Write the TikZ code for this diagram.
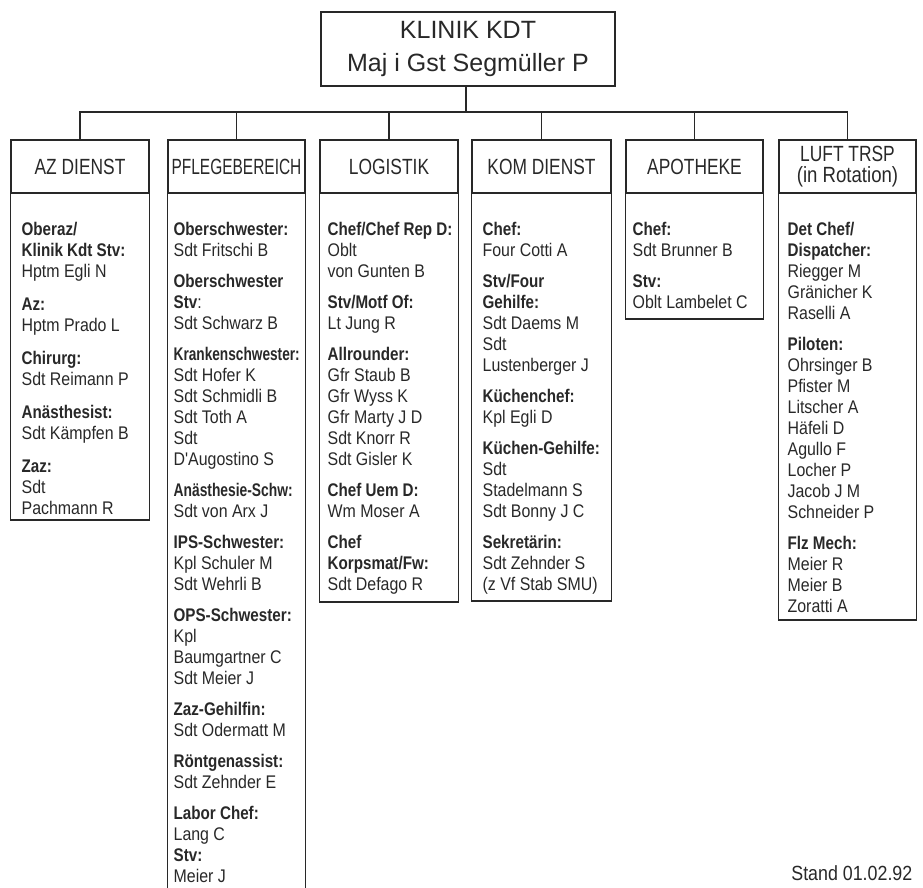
\documentclass[tikz,border=0pt]{standalone}
\usepackage{fontspec}
\setmainfont{Liberation Sans}[Ligatures=TeXOff, FakeStretch=0.87, BoldFeatures={FakeStretch=0.83}]
\newfontfamily\topfont{Liberation Sans}
\newfontfamily\hdfont{Liberation Sans}[FakeStretch=0.79]
\definecolor{ink}{RGB}{40,40,40}
\begin{document}
\begin{tikzpicture}[x=1pt,y=-1pt, line width=1.3pt, color=ink,
  topbox/.style={draw, inner sep=0pt, minimum width=294pt, minimum height=74pt, align=center, font=\topfont\fontsize{25}{33}\selectfont},
  hdbox/.style={draw, inner sep=0pt, minimum height=53pt, align=center, font=\hdfont\fontsize{22}{21}\selectfont},
  body/.style={anchor=north west, inner sep=0pt, align=left, font=\fontsize{18.3}{21}\selectfont},
  stamp/.style={anchor=base east, inner sep=0pt, font=\fontsize{20.5}{24}\selectfont}]
\useasboundingbox (0,0) rectangle (923,888);

% top
\node[topbox] (kdt) at (468,49) {KLINIK KDT\\Maj i Gst Segmüller P};

% headers
\node[hdbox, minimum width=138pt] (az) at (80,166.5) {AZ DIENST};
\node[hdbox, minimum width=137pt] (pf) at (236.5,166.5) {\scalebox{0.89}[1]{PFLEGEBEREICH}};
\node[hdbox, minimum width=138pt] (lg) at (389,166.5) {LOGISTIK};
\node[hdbox, minimum width=139pt] (km) at (541.5,166.5) {KOM DIENST};
\node[hdbox, minimum width=137pt] (ap) at (694.5,166.5) {APOTHEKE};
\node[hdbox, minimum width=137pt] (lt) at (847.5,166.5) {LUFT TRSP\\\scalebox{1.07}[1]{(in Rotation)}};

% connectors
\coordinate (bus) at (466,112);
\draw (kdt.south -| bus) -- (bus);
\draw (az.north) |- (bus) -| (lt.north);
\foreach \n in {pf,lg,km,ap} \draw (\n.north) -- (\n.north |- bus);

% body frames
\draw (az.south west) -- (az.south west |- 0,520) -| (az.south east);
\draw (pf.south west) -- (pf.south west |- 0,888);
\draw (pf.south east) -- (pf.south east |- 0,888);
\draw (lg.south west) -- (lg.south west |- 0,602) -| (lg.south east);
\draw (km.south west) -- (km.south west |- 0,601) -| (km.south east);
\draw (ap.south west) -- (ap.south west |- 0,319) -| (ap.south east);
\draw (lt.south west) -- (lt.south west |- 0,620) -| (lt.south east);

% bodies
\node[body] (azb) at (21,221) {\rule{0pt}{14pt}\textbf{Oberaz/}\\
\textbf{Klinik Kdt Stv:}\\
Hptm Egli N\\[12pt]
\textbf{Az:}\\
Hptm Prado L\\[12pt]
\textbf{Chirurg:}\\
Sdt Reimann P\\[12pt]
\textbf{Anästhesist:}\\
Sdt Kämpfen B\\[12pt]
\textbf{Zaz:}\\
Sdt\\
Pachmann R};

\node[body] (pfb) at (173,221) {\rule{0pt}{14pt}\textbf{Oberschwester:}\\
Sdt Fritschi B\\[10pt]
\textbf{Oberschwester}\\
\textbf{Stv}:\\
Sdt Schwarz B\\[10pt]
\scalebox{0.9}[1]{\textbf{Krankenschwester:}}\\
Sdt Hofer K\\
Sdt Schmidli B\\
Sdt Toth A\\
Sdt\\
D'Augostino S\\[10pt]
\scalebox{0.91}[1]{\textbf{Anästhesie-Schw:}}\\
Sdt von Arx J\\[10pt]
\textbf{IPS-Schwester:}\\
Kpl Schuler M\\
Sdt Wehrli B\\[10pt]
\textbf{OPS-Schwester:}\\
Kpl\\
Baumgartner C\\
Sdt Meier J\\[10pt]
\textbf{Zaz-Gehilfin:}\\
Sdt Odermatt M\\[10pt]
\textbf{Röntgenassist:}\\
Sdt Zehnder E\\[10pt]
\textbf{Labor Chef:}\\
Lang C\\
\textbf{Stv:}\\
Meier J};

\node[body] (lgb) at (327,221) {\rule{0pt}{14pt}\textbf{Chef/Chef Rep D:}\\
Oblt\\
von Gunten B\\[10pt]
\textbf{Stv/Motf Of:}\\
Lt Jung R\\[10pt]
\textbf{Allrounder:}\\
Gfr Staub B\\
Gfr Wyss K\\
Gfr Marty J D\\
Sdt Knorr R\\
Sdt Gisler K\\[10pt]
\textbf{Chef Uem D:}\\
Wm Moser A\\[10pt]
\textbf{Chef}\\
\textbf{Korpsmat/Fw:}\\
Sdt Defago R};

\node[body] (kmb) at (482,221) {\rule{0pt}{14pt}\textbf{Chef:}\\
Four Cotti A\\[10pt]
\textbf{Stv/Four}\\
\textbf{Gehilfe:}\\
Sdt Daems M\\
Sdt\\
Lustenberger J\\[10pt]
\textbf{Küchenchef:}\\
Kpl Egli D\\[10pt]
\textbf{Küchen-Gehilfe:}\\
Sdt\\
Stadelmann S\\
Sdt Bonny J C\\[10pt]
\textbf{Sekretärin:}\\
Sdt Zehnder S\\
(z Vf Stab SMU)};

\node[body] (apb) at (632,221) {\rule{0pt}{14pt}\textbf{Chef:}\\
Sdt Brunner B\\[10pt]
\textbf{Stv:}\\
Oblt Lambelet C};

\node[body] (ltb) at (787,221) {\rule{0pt}{14pt}\textbf{Det Chef/}\\
\textbf{Dispatcher:}\\
Riegger M\\
Gränicher K\\
Raselli A\\[10pt]
\textbf{Piloten:}\\
Ohrsinger B\\
Pfister M\\
Litscher A\\
Häfeli D\\
Agullo F\\
Locher P\\
Jacob J M\\
Schneider P\\[10pt]
\textbf{Flz Mech:}\\
Meier R\\
Meier B\\
Zoratti A};

\node[stamp] (stand) at (913,880) {Stand 01.02.92};
\end{tikzpicture}
\end{document}
